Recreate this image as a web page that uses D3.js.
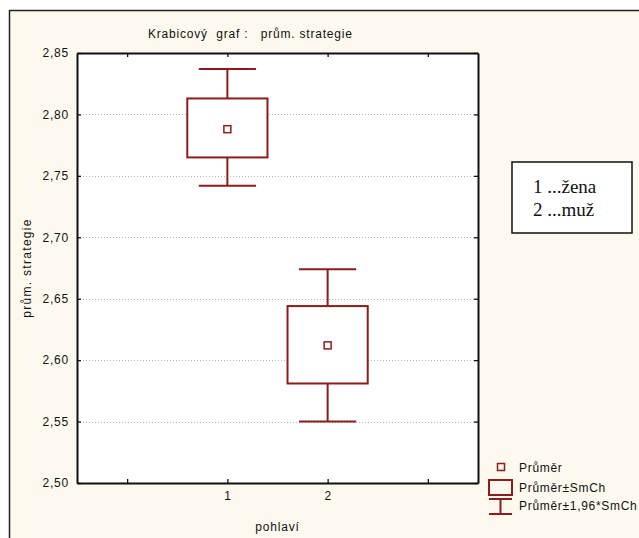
<!DOCTYPE html>
<html>
<head>
<meta charset="utf-8">
<script src="https://cdn.jsdelivr.net/npm/d3@7"></script>
<style>
  body { margin: 0; background: #fff; }
  text { font-family: "Liberation Sans", Arial, sans-serif; fill: #111; }
</style>
</head>
<body>
<div id="chart"></div>
<script>
// data
var categories = ["1", "2"];
var means = [2.788, 2.612];
var seLow = [2.765, 2.581];
var seHigh = [2.813, 2.644];
var ciLow = [2.742, 2.550];
var ciHigh = [2.837, 2.674];
var yTicks = [2.50, 2.55, 2.60, 2.65, 2.70, 2.75, 2.80, 2.85];
var xSlots = ["lo", "1", "2", "hi"];
var legendItems = ["Průměr", "Průměr±SmCh", "Průměr±1,96*SmCh"];
var noteLines = ["1 ...žena", "2 ...muž"];

var red = "#8e1c1c";
var W = 639, H = 538;
var plot = { left: 77, top: 53, right: 478, bottom: 483 };

var svg = d3.select("#chart").append("svg").attr("width", W).attr("height", H);

// outer frame (runs off the right and bottom edge)
svg.append("rect")
    .attr("x", 9.5).attr("y", 10.5)
    .attr("width", 700).attr("height", 600)
    .attr("fill", "#fdf9ee").attr("stroke", "#222").attr("stroke-width", 1.5);

svg.append("rect")
    .attr("x", plot.left).attr("y", plot.top)
    .attr("width", plot.right - plot.left).attr("height", plot.bottom - plot.top)
    .attr("fill", "#fff");

var x = d3.scalePoint().domain(xSlots).range([plot.left, plot.right]).padding(0.5);
var y = d3.scaleLinear().domain([2.50, 2.85]).range([plot.bottom, plot.top]);
var step = x.step();

var fmt = function(d) { return d3.format(".2f")(d).replace(".", ","); };

// grid
svg.append("g").selectAll("line")
    .data(yTicks.filter(function(d) { return d > 2.5 && d < 2.85; }))
    .join("line")
    .attr("x1", plot.left).attr("x2", plot.right)
    .attr("y1", function(d) { return Math.round(y(d)) + 0.5; })
    .attr("y2", function(d) { return Math.round(y(d)) + 0.5; })
    .attr("stroke", "#b4b4b4").attr("stroke-dasharray", "1,2");

// axes
function styleAxis(g) {
    g.selectAll(".domain").attr("stroke", "#111").attr("stroke-width", 2);
    g.selectAll(".tick line").attr("stroke", "#111").attr("stroke-width", 1.3);
    g.selectAll(".tick text").attr("font-size", 12).attr("fill", "#111")
        .attr("letter-spacing", 0.8)
        .attr("font-family", "Liberation Sans, Arial, sans-serif");
}

svg.append("g").attr("transform", "translate(" + plot.left + ",0)")
    .call(d3.axisLeft(y).tickValues(yTicks).tickFormat(fmt).tickSizeInner(-4).tickSizeOuter(0).tickPadding(8))
    .call(styleAxis);
svg.append("g").attr("transform", "translate(" + plot.right + ",0)")
    .call(d3.axisRight(y).tickValues(yTicks).tickFormat("").tickSizeInner(-4).tickSizeOuter(0))
    .call(styleAxis);
svg.append("g").attr("transform", "translate(0," + plot.bottom + ")")
    .call(d3.axisBottom(x).tickFormat(function(d) { return categories.includes(d) ? d : ""; })
        .tickSizeInner(-4).tickSizeOuter(0).tickPadding(8))
    .call(styleAxis);
svg.append("g").attr("transform", "translate(0," + plot.top + ")")
    .call(d3.axisTop(x).tickFormat("").tickSizeInner(-4).tickSizeOuter(0))
    .call(styleAxis);

// boxes
var boxes = svg.append("g").selectAll("g").data(categories).join("g");
var boxHalf = step * 0.4, capHalf = step * 0.285;

boxes.append("line")
    .attr("x1", function(d) { return x(d); }).attr("x2", function(d) { return x(d); })
    .attr("y1", function(d, i) { return y(ciHigh[i]); })
    .attr("y2", function(d, i) { return y(ciLow[i]); })
    .attr("stroke", red).attr("stroke-width", 2);
boxes.selectAll(".cap")
    .data(function(d, i) { return [[d, ciHigh[i]], [d, ciLow[i]]]; })
    .join("line").attr("class", "cap")
    .attr("x1", function(d) { return x(d[0]) - capHalf; })
    .attr("x2", function(d) { return x(d[0]) + capHalf; })
    .attr("y1", function(d) { return y(d[1]); })
    .attr("y2", function(d) { return y(d[1]); })
    .attr("stroke", red).attr("stroke-width", 2);
boxes.append("rect")
    .attr("x", function(d) { return x(d) - boxHalf; })
    .attr("y", function(d, i) { return y(seHigh[i]); })
    .attr("width", boxHalf * 2)
    .attr("height", function(d, i) { return y(seLow[i]) - y(seHigh[i]); })
    .attr("fill", "#fff").attr("stroke", red).attr("stroke-width", 2);
boxes.append("rect")
    .attr("x", function(d) { return x(d) - 3.5; })
    .attr("y", function(d, i) { return y(means[i]) - 3.5; })
    .attr("width", 7).attr("height", 7)
    .attr("fill", "#fff").attr("stroke", red).attr("stroke-width", 1.5);

// titles
svg.append("text").attr("x", 148).attr("y", 38).attr("font-size", 12)
    .attr("letter-spacing", 0.8).attr("xml:space", "preserve")
    .text("Krabicový  graf :   prům. strategie");
svg.append("text").attr("x", (plot.left + plot.right) / 2).attr("y", 531)
    .attr("text-anchor", "middle").attr("font-size", 12).attr("letter-spacing", 0.8)
    .text("pohlaví");
svg.append("text")
    .attr("transform", "translate(31," + (plot.top + plot.bottom) / 2 + ") rotate(-90)")
    .attr("text-anchor", "middle").attr("font-size", 12).attr("letter-spacing", 1.3)
    .text("prům. strategie");

// note box
svg.append("rect").attr("x", 512).attr("y", 162).attr("width", 120).attr("height", 71)
    .attr("fill", "#fff").attr("stroke", "#111").attr("stroke-width", 1.5);
svg.append("g").selectAll("text").data(noteLines).join("text")
    .attr("x", 533).attr("y", function(d, i) { return 193 + i * 23; })
    .attr("font-size", 19)
    .style("font-family", "Liberation Serif, Times New Roman, serif")
    .text(function(d) { return d; });

// legend
var lg = svg.append("g");
lg.selectAll("text").data(legendItems).join("text")
    .attr("x", 519).attr("y", function(d, i) { return [472, 492, 510][i]; })
    .attr("font-size", 12).attr("letter-spacing", 0.7).text(function(d) { return d; });
lg.append("rect").attr("x", 497.5).attr("y", 463.5).attr("width", 7).attr("height", 7)
    .attr("fill", "none").attr("stroke", red).attr("stroke-width", 1.5);
lg.append("rect").attr("x", 489).attr("y", 480).attr("width", 23).attr("height", 15)
    .attr("fill", "none").attr("stroke", red).attr("stroke-width", 2);
lg.append("path").attr("d", "M489,499H512M500.5,499V514M489,514H512")
    .attr("fill", "none").attr("stroke", red).attr("stroke-width", 2);
</script>
</body>
</html>
